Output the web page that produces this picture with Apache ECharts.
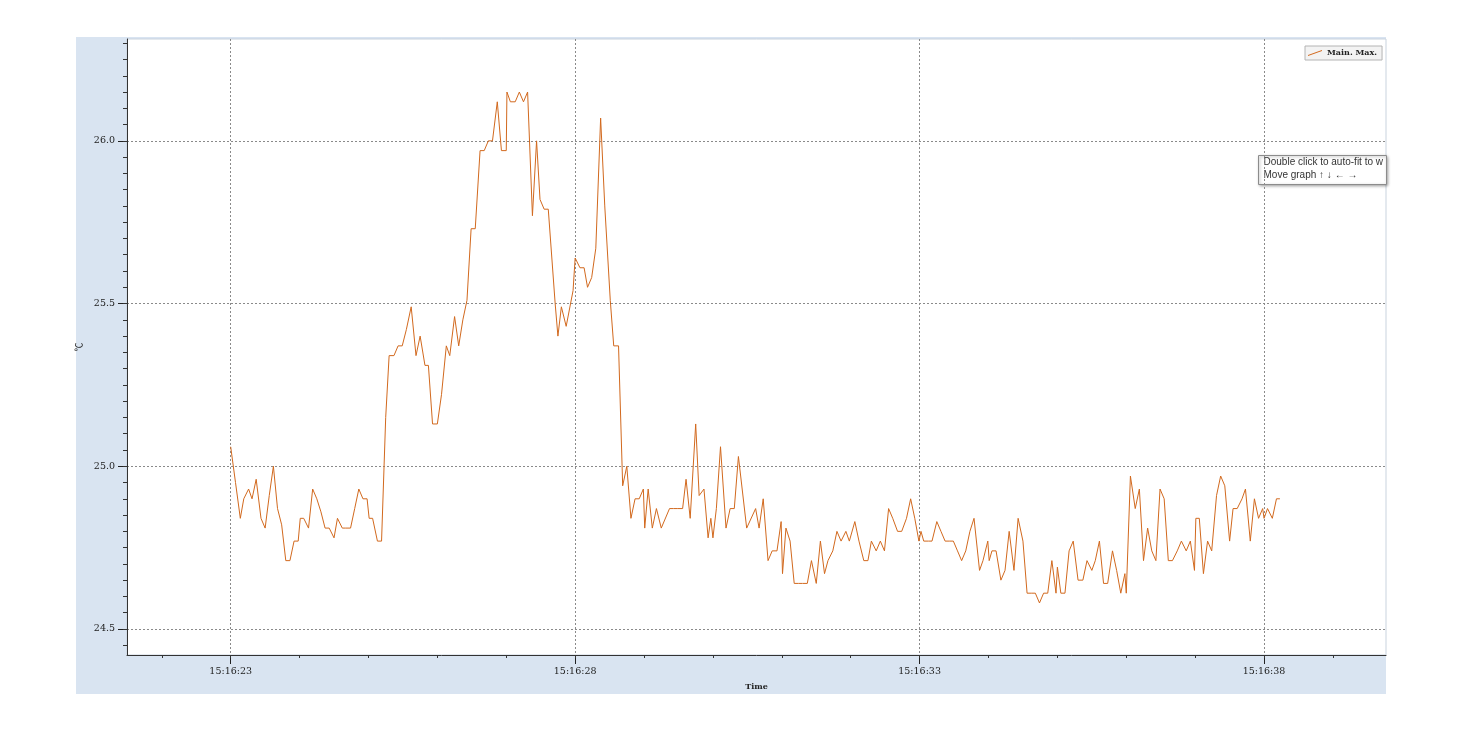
<!DOCTYPE html>
<html>
<head>
<meta charset="UTF-8">
<title>Main. Max.</title>
<style type="text/css">
	* { margin: 0; padding: 0; }
	body { background: #fff; width: 1464px; height: 732px; position: relative; overflow: hidden; }
	.panel { position: absolute; left: 76px; top: 37px; width: 1310px; height: 657px; background-color: #d9e4f1; }
	#chart { position: absolute; left: 0; top: 0; width: 1464px; height: 732px; }
</style>
</head>
<body>
<div class="panel"></div>
<div id="chart"></div>
<script src="https://cdn.jsdelivr.net/npm/echarts@6/dist/echarts.min.js"></script>
<script type="text/javascript">
// seconds after 15:16:00
var times = [
	23.00, 23.07, 23.14, 23.19, 23.26, 23.31, 23.37, 23.44, 23.50, 23.56, 23.62, 23.68, 23.74, 23.80, 23.86, 23.92, 23.98,
	24.01, 24.06, 24.13, 24.19, 24.25, 24.31, 24.37, 24.43, 24.50, 24.55, 24.62, 24.67, 24.74, 24.80, 24.86, 24.92, 24.98,
	25.01, 25.06, 25.13, 25.19, 25.25, 25.30, 25.37, 25.43, 25.49, 25.55, 25.62, 25.69, 25.75, 25.82, 25.87, 25.93,
	26.00, 26.06, 26.13, 26.18, 26.25, 26.31, 26.37, 26.43, 26.49, 26.55, 26.62, 26.68, 26.74, 26.80, 26.87, 26.93,
	27.00, 27.01, 27.06, 27.13, 27.19, 27.25, 27.31, 27.38, 27.44, 27.49, 27.55, 27.61, 27.71, 27.75, 27.80, 27.87, 27.97,
	28.00, 28.07, 28.13, 28.18, 28.24, 28.30, 28.37, 28.43, 28.51, 28.56, 28.63, 28.69, 28.75, 28.81, 28.87, 28.93, 28.99,
	29.01, 29.06, 29.12, 29.18, 29.25, 29.37, 29.43, 29.49, 29.56, 29.61, 29.67, 29.75, 29.80, 29.87, 29.93, 29.97,
	30.00, 30.05, 30.11, 30.19, 30.25, 30.31, 30.37, 30.49, 30.62, 30.67, 30.73, 30.80, 30.86, 30.93, 30.99,
	31.01, 31.06, 31.12, 31.18, 31.24, 31.30, 31.37, 31.43, 31.50, 31.56, 31.62, 31.67, 31.74, 31.80, 31.86, 31.93, 31.98,
	32.06, 32.12, 32.19, 32.25, 32.30, 32.37, 32.43, 32.49, 32.55, 32.61, 32.68, 32.74, 32.81, 32.87, 32.93, 32.99,
	33.02, 33.06, 33.13, 33.18, 33.25, 33.31, 33.37, 33.43, 33.49, 33.55, 33.61, 33.67, 33.73, 33.79, 33.87, 33.92, 33.99,
	34.01, 34.05, 34.11, 34.18, 34.24, 34.30, 34.37, 34.43, 34.50, 34.56, 34.62, 34.68, 34.74, 34.80, 34.86, 34.92, 34.98,
	35.00, 35.05, 35.11, 35.17, 35.23, 35.30, 35.37, 35.43, 35.50, 35.55, 35.61, 35.67, 35.73, 35.80, 35.86, 35.92, 35.98,
	36.00, 36.06, 36.13, 36.19, 36.25, 36.31, 36.37, 36.43, 36.49, 36.55, 36.61, 36.67, 36.74, 36.80, 36.87, 36.93, 36.99,
	37.01, 37.06, 37.12, 37.18, 37.24, 37.31, 37.37, 37.43, 37.50, 37.55, 37.61, 37.68, 37.73, 37.80, 37.86, 37.92, 37.98,
	38.00, 38.05, 38.12, 38.18, 38.23
];
var maxTemps = [
	25.06, 24.95, 24.84, 24.90, 24.93, 24.90, 24.96, 24.84, 24.81, 24.91, 25.00, 24.87, 24.82, 24.71, 24.71, 24.77, 24.77,
	24.84, 24.84, 24.81, 24.93, 24.90, 24.86, 24.81, 24.81, 24.78, 24.84, 24.81, 24.81, 24.81, 24.87, 24.93, 24.90, 24.90,
	24.84, 24.84, 24.77, 24.77, 25.15, 25.34, 25.34, 25.37, 25.37, 25.42, 25.49, 25.34, 25.40, 25.31, 25.31, 25.13,
	25.13, 25.22, 25.37, 25.34, 25.46, 25.37, 25.45, 25.51, 25.73, 25.73, 25.97, 25.97, 26.00, 26.00, 26.12, 25.97,
	25.97, 26.15, 26.12, 26.12, 26.15, 26.12, 26.15, 25.77, 26.00, 25.82, 25.79, 25.79, 25.50, 25.40, 25.49, 25.43, 25.54,
	25.64, 25.61, 25.61, 25.55, 25.58, 25.67, 26.07, 25.80, 25.51, 25.37, 25.37, 24.94, 25.00, 24.84, 24.90, 24.90, 24.93,
	24.81, 24.93, 24.81, 24.87, 24.81, 24.87, 24.87, 24.87, 24.87, 24.96, 24.84, 25.13, 24.91, 24.93, 24.78, 24.84,
	24.78, 24.87, 25.06, 24.81, 24.87, 24.87, 25.03, 24.81, 24.87, 24.81, 24.90, 24.71, 24.74, 24.74, 24.83,
	24.67, 24.81, 24.77, 24.64, 24.64, 24.64, 24.64, 24.71, 24.64, 24.77, 24.67, 24.71, 24.74, 24.80, 24.77, 24.80, 24.77,
	24.83, 24.77, 24.71, 24.71, 24.77, 24.74, 24.77, 24.74, 24.87, 24.84, 24.80, 24.80, 24.84, 24.90, 24.84, 24.77,
	24.80, 24.77, 24.77, 24.77, 24.83, 24.80, 24.77, 24.77, 24.77, 24.74, 24.71, 24.74, 24.80, 24.84, 24.68, 24.71, 24.77,
	24.71, 24.74, 24.74, 24.65, 24.68, 24.80, 24.68, 24.84, 24.77, 24.61, 24.61, 24.61, 24.58, 24.61, 24.61, 24.71, 24.61,
	24.69, 24.61, 24.61, 24.74, 24.77, 24.65, 24.65, 24.71, 24.68, 24.71, 24.77, 24.64, 24.64, 24.74, 24.68, 24.61, 24.67,
	24.61, 24.97, 24.87, 24.93, 24.71, 24.81, 24.74, 24.71, 24.93, 24.90, 24.71, 24.71, 24.74, 24.77, 24.74, 24.77, 24.68,
	24.84, 24.84, 24.67, 24.77, 24.74, 24.91, 24.97, 24.94, 24.77, 24.87, 24.87, 24.90, 24.93, 24.77, 24.90, 24.84, 24.87,
	24.84, 24.87, 24.84, 24.90, 24.90
];
// ticks
var xMajorTicks = [23, 28, 33, 38];
var xMinorTicks = [22, 23, 24, 25, 26, 27, 28, 29, 30, 31, 32, 33, 34, 35, 36, 37, 38, 39];
var yMajorTicks = [24.5, 25.0, 25.5, 26.0];
var yMinorTicks = [24.45, 24.5, 24.55, 24.6, 24.65, 24.7, 24.75, 24.8, 24.85, 24.9, 24.95, 25.0, 25.05, 25.1, 25.15,
	25.2, 25.25, 25.3, 25.35, 25.4, 25.45, 25.5, 25.55, 25.6, 25.65, 25.7, 25.75, 25.8, 25.85, 25.9, 25.95, 26.0,
	26.05, 26.1, 26.15, 26.2, 26.25, 26.3];
var xMin = 21.495, xMax = 39.77;
var yMin = 24.42, yMax = 26.313;

var seriesName = 'Main. Max.';
var lineColor = '#d2691e';
var labelFont = 'DejaVu Serif';

function fmtTime(v) {
	var s = Math.round(v);
	return '15:16:' + (s < 10 ? '0' + s : s);
}

var myChart = echarts.init(document.getElementById('chart'));
var option = {
	backgroundColor: 'transparent',
	animation: false,
	grid: {
		left: 127, top: 39, right: 78, bottom: 77,
		show: true,
		backgroundColor: '#fff',
		borderColor: '#c9d3de',
		borderWidth: 1
	},
	legend: {
		data: [seriesName],
		left: 1305, top: 46,
		padding: [3, 5, 3, 3],
		icon: 'path://M0,7 L14,2 L14,3 L0,8 Z',
		itemWidth: 14, itemHeight: 6, itemGap: 4,
		backgroundColor: '#f3f3f3',
		borderColor: '#b4b4b4',
		borderWidth: 1,
		borderRadius: 0,
		textStyle: { fontFamily: labelFont, fontSize: 8, fontWeight: 'bold', color: '#222' }
	},
	xAxis: [{
		type: 'value',
		min: xMin, max: xMax,
		name: 'Time',
		nameLocation: 'middle',
		nameGap: 28,
		nameTextStyle: { fontFamily: labelFont, fontSize: 8, fontWeight: 'bold', color: '#222' },
		axisLine: { show: true, onZero: false, lineStyle: { color: '#333', width: 1 } },
		axisTick: { show: true, customValues: xMajorTicks, length: 9, lineStyle: { color: '#222' } },
		axisLabel: { customValues: xMajorTicks, formatter: fmtTime, margin: 12,
			fontFamily: labelFont, fontSize: 9.5, color: '#222' },
		splitLine: { show: true, lineStyle: { color: '#8a8a8a', type: [2, 2], width: 1 } }
	}, {
		type: 'value',
		min: xMin, max: xMax,
		position: 'bottom',
		axisLine: { show: false },
		axisTick: { show: true, customValues: xMinorTicks, length: 3, lineStyle: { color: '#333' } },
		axisLabel: { show: false },
		splitLine: { show: false }
	}],
	yAxis: [{
		type: 'value',
		min: yMin, max: yMax,
		name: '℃',
		nameLocation: 'middle',
		nameGap: 34,
		nameRotate: 90,
		nameTextStyle: { fontFamily: 'Noto Sans CJK SC', fontSize: 9, color: '#222' },
		axisLine: { show: true, onZero: false, lineStyle: { color: '#333', width: 1 } },
		axisTick: { show: true, customValues: yMajorTicks, length: 9, lineStyle: { color: '#222' } },
		axisLabel: { customValues: yMajorTicks, margin: 12,
			formatter: function (v) { return v.toFixed(1); },
			fontFamily: labelFont, fontSize: 9.5, color: '#222' },
		splitLine: { show: true, lineStyle: { color: '#8a8a8a', type: [2, 2], width: 1 } }
	}, {
		type: 'value',
		min: yMin, max: yMax,
		position: 'left',
		axisLine: { show: false },
		axisTick: { show: true, customValues: yMinorTicks, length: 4, lineStyle: { color: '#333' } },
		axisLabel: { show: false },
		splitLine: { show: false }
	}],
	series: [{
		name: seriesName,
		type: 'line',
		xAxisIndex: 0,
		yAxisIndex: 0,
		showSymbol: false,
		symbol: 'none',
		lineStyle: { color: lineColor, width: 1 },
		itemStyle: { color: lineColor },
		data: times.map(function (t, i) { return [t, maxTemps[i]]; })
	}],
	graphic: [{
		type: 'group',
		left: 1258, top: 155,
		z: 100,
		children: [{
			type: 'rect',
			shape: { x: 0, y: 0, width: 128, height: 29 },
			style: { fill: '#fff', stroke: '#8c8c8c', lineWidth: 1,
				shadowBlur: 3, shadowOffsetX: 1, shadowOffsetY: 1, shadowColor: 'rgba(0,0,0,0.35)' }
		}, {
			type: 'text',
			x: 5, y: 2,
			style: { text: 'Double click to auto-fit to w', font: '10px "Liberation Sans"', fill: '#333' }
		}, {
			type: 'text',
			x: 5, y: 15,
			style: { text: 'Move graph ↑ ↓ ← →', font: '10px "Liberation Sans"', fill: '#333' }
		}]
	}]
};
myChart.setOption(option);
window.addEventListener('resize', myChart.resize);
</script>
</body>
</html>
